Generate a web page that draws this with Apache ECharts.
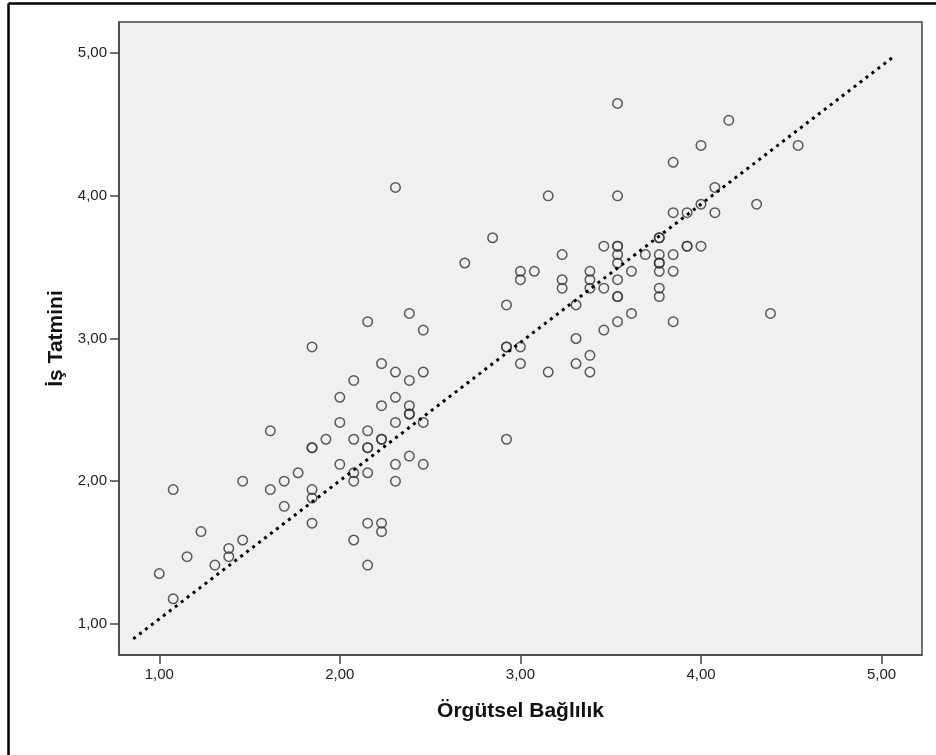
<!DOCTYPE html>
<html>
<head>
<meta charset="utf-8">
<script src="https://cdn.jsdelivr.net/npm/echarts@6/dist/echarts.min.js"></script>
<style>
html,body{margin:0;padding:0;background:#fff;}
#chart{width:936px;height:755px;}
</style>
</head>
<body>
<div id="chart"></div>
<script>
// Örgütsel Bağlılık (x) values
const xValues = [
  1.000,
  1.077, 1.077,
  1.154,
  1.231,
  1.308,
  1.385, 1.385,
  1.462, 1.462,
  1.615, 1.615,
  1.692, 1.692,
  1.769,
  1.846, 1.846, 1.846, 1.846, 1.846, 1.846,
  1.923,
  2.000, 2.000, 2.000,
  2.077, 2.077, 2.077, 2.077, 2.077,
  2.154, 2.154, 2.154, 2.154, 2.154, 2.154, 2.154,
  2.231, 2.231, 2.231, 2.231, 2.231, 2.231,
  2.308, 2.308, 2.308, 2.308, 2.308, 2.308,
  2.385, 2.385, 2.385, 2.385, 2.385, 2.385,
  2.462, 2.462, 2.462, 2.462,
  2.692,
  2.846,
  2.923, 2.923, 2.923, 2.923,
  3.000, 3.000, 3.000, 3.000,
  3.077,
  3.154, 3.154,
  3.231, 3.231, 3.231,
  3.308, 3.308, 3.308,
  3.385, 3.385, 3.385, 3.385, 3.385,
  3.462, 3.462, 3.462,
  3.538, 3.538, 3.538, 3.538, 3.538, 3.538, 3.538, 3.538, 3.538, 3.538,
  3.615, 3.615,
  3.692,
  3.769, 3.769, 3.769, 3.769, 3.769, 3.769, 3.769, 3.769,
  3.846, 3.846, 3.846, 3.846, 3.846,
  3.923, 3.923, 3.923,
  4.000, 4.000, 4.000,
  4.077, 4.077,
  4.154,
  4.308,
  4.385,
  4.538
];
// İş Tatmini (y) values
const yValues = [
  1.353,
  1.941, 1.176,
  1.471,
  1.647,
  1.412,
  1.529, 1.471,
  2.000, 1.588,
  2.353, 1.941,
  2.000, 1.824,
  2.059,
  2.941, 2.235, 2.235, 1.941, 1.882, 1.706,
  2.294,
  2.588, 2.412, 2.118,
  2.706, 2.294, 2.059, 2.000, 1.588,
  3.118, 2.353, 2.235, 2.235, 2.059, 1.706, 1.412,
  2.824, 2.529, 2.294, 2.294, 1.706, 1.647,
  4.059, 2.765, 2.588, 2.412, 2.118, 2.000,
  3.176, 2.706, 2.529, 2.471, 2.471, 2.176,
  3.059, 2.765, 2.412, 2.118,
  3.529,
  3.706,
  3.235, 2.941, 2.941, 2.294,
  3.471, 3.412, 2.941, 2.824,
  3.471,
  4.000, 2.765,
  3.588, 3.412, 3.353,
  3.235, 3.000, 2.824,
  3.471, 3.412, 3.353, 2.882, 2.765,
  3.647, 3.353, 3.059,
  4.647, 4.000, 3.647, 3.647, 3.588, 3.529, 3.412, 3.294, 3.294, 3.118,
  3.471, 3.176,
  3.588,
  3.706, 3.706, 3.588, 3.529, 3.529, 3.471, 3.353, 3.294,
  4.235, 3.882, 3.588, 3.471, 3.118,
  3.882, 3.647, 3.647,
  4.353, 3.941, 3.647,
  4.059, 3.882,
  4.529,
  3.941,
  3.176,
  4.353
];
// Fit line end points
const fitX = [0.856, 5.076];
const fitY = [0.895, 4.984];
// Tick labels
const xTickValues = [1, 2, 3, 4, 5];
const yTickValues = [1, 2, 3, 4, 5];

const fmt = v => Number(v).toFixed(2).replace('.', ',');
const points = xValues.map((x, i) => [x, yValues[i]]);
const fitData = fitX.map((x, i) => [x, fitY[i]]);

const chart = echarts.init(document.getElementById('chart'), null, {renderer: 'canvas'});
const font = "'Liberation Sans', Arial, sans-serif";
const axisCommon = {
  type: 'value',
  nameLocation: 'middle',
  nameTextStyle: {fontFamily: font, fontWeight: 'bold', fontSize: 21, color: '#111'},
  axisLine: {show: true, onZero: false, lineStyle: {color: '#444', width: 1.5}},
  axisTick: {show: true, length: 9, lineStyle: {color: '#444', width: 1.5}},
  axisLabel: {fontFamily: font, fontSize: 15, color: '#222', formatter: fmt},
  splitLine: {show: false}
};
chart.setOption({
  animation: false,
  backgroundColor: '#fff',
  grid: {left: 119, top: 22, right: 14, bottom: 100, show: true,
         backgroundColor: '#f0f0f0', borderColor: '#444', borderWidth: 1.5},
  xAxis: Object.assign({}, axisCommon, {
    name: 'Örgütsel Bağlılık', nameGap: 46,
    min: 0.777, max: 5.224,
    axisTick: Object.assign({}, axisCommon.axisTick, {customValues: xTickValues}),
    axisLabel: Object.assign({}, axisCommon.axisLabel, {customValues: xTickValues, margin: 12})
  }),
  yAxis: Object.assign({}, axisCommon, {
    name: 'İş Tatmini', nameGap: 50, nameRotate: 90,
    min: 0.782, max: 5.218,
    axisTick: Object.assign({}, axisCommon.axisTick, {customValues: yTickValues}),
    axisLabel: Object.assign({}, axisCommon.axisLabel, {customValues: yTickValues, margin: 12})
  }),
  graphic: [
    {type: 'line', shape: {x1: 8.5, y1: 3.5, x2: 936, y2: 3.5}, style: {stroke: '#000', lineWidth: 2.5}, silent: true},
    {type: 'line', shape: {x1: 8.5, y1: 3.5, x2: 8.5, y2: 755}, style: {stroke: '#000', lineWidth: 2.5}, silent: true}
  ],
  series: [
    {
      type: 'scatter',
      data: points,
      symbol: 'circle',
      symbolSize: 9.5,
      itemStyle: {color: 'rgba(0,0,0,0)', borderColor: '#333', borderWidth: 1.5},
      z: 2
    },
    {
      type: 'line',
      data: fitData,
      showSymbol: false,
      symbol: 'none',
      lineStyle: {color: '#000', width: 3, type: [3, 4.5], cap: 'butt'},
      z: 3
    }
  ]
});
</script>
</body>
</html>
